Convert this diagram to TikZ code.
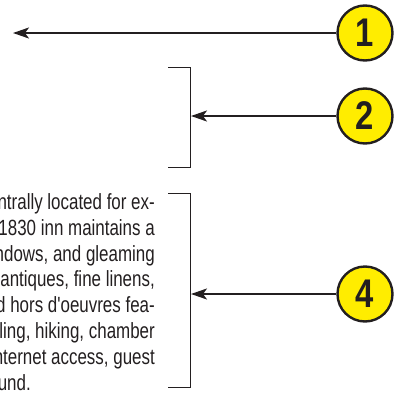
\documentclass[tikz,border=0pt]{standalone}
\usepackage{fontspec}
\usetikzlibrary{arrows.meta}
\newfontfamily\condfont{Liberation Sans}[FakeStretch=0.77]
\newfontfamily\numfont{Liberation Sans Bold}[FakeStretch=0.82]
\definecolor{ink}{RGB}{35,31,32}
\definecolor{badge}{RGB}{255,237,0}
\tikzset{
  callout/.style={circle, draw=ink, line width=2.4pt, fill=badge, minimum size=55pt, inner sep=0pt, font=\numfont\fontsize{40}{40}\selectfont, text=ink},
  pointer/.style={draw=ink, line width=2pt, -{Stealth[length=16pt, width=11pt, inset=4pt]}},
  brace/.style={draw=ink, line width=1pt},
  txt/.style={anchor=base east, inner sep=0pt, text=ink, font=\condfont\fontsize{22}{25.8}\selectfont}
}
\begin{document}
\begin{tikzpicture}[x=1pt, y=-1pt]
\useasboundingbox (0,0) rectangle (401,402);
\node [callout] (c1) at (365,33) {1};
\node [callout] (c2) at (365,116) {2};
\node [callout] (c4) at (365,294) {4};
\coordinate (t1) at (13,33);
\coordinate (t2) at (191,116);
\coordinate (t4) at (191,294);
\draw [brace] (168,67) -- (190,67) -- (190,167) -- (168,167); % upper bracket
\draw [brace] (168,193) -- (190,193) -- (190,387) -- (168,387); % lower bracket
\draw [pointer] (c1) -- (t1);
\draw [pointer] (c2) -- (t2);
\draw [pointer] (c4) -- (t4);
\node [txt] (l1) at (155,209.5) {ntrally located for ex-};
\node [txt] (l2) at (155,235.3) {1830 inn maintains a};
\node [txt] (l3) at (155,261.1) {ndows, and gleaming};
\node [txt] (l4) at (155,286.9) {antiques, fine linens,};
\node [txt] (l5) at (155,312.7) {d hors d'oeuvres fea-};
\node [txt] (l6) at (155,338.5) {ling, hiking, chamber};
\node [txt] (l7) at (155,364.3) {nternet access, guest};
\node [txt] (l8) at (31,390.1) {und.};
\end{tikzpicture}
\end{document}
